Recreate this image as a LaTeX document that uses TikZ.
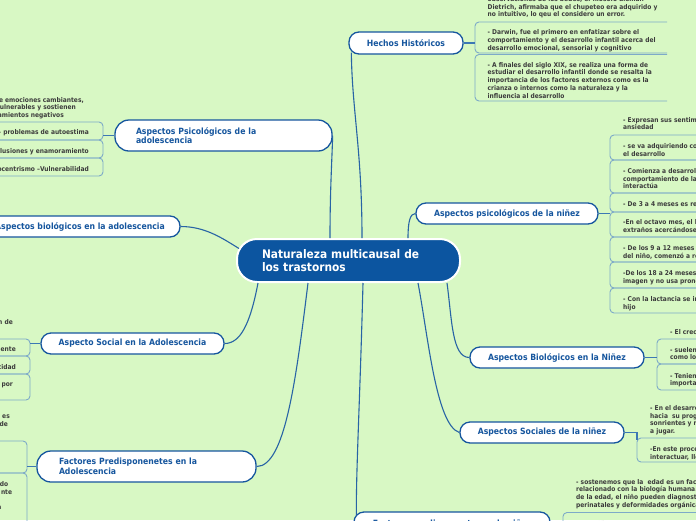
\documentclass[tikz,border=0pt]{standalone}
\usepackage{fontspec}
\setmainfont{DejaVu Sans}[FakeStretch=0.9]
\definecolor{bg}{RGB}{216,248,196}
\definecolor{nblue}{RGB}{22,86,158}
\definecolor{cblue}{RGB}{12,85,160}
\definecolor{lnblue}{RGB}{40,100,165}
\definecolor{stubc}{RGB}{60,120,180}
\definecolor{boxc}{RGB}{125,170,200}
\definecolor{txt}{RGB}{60,60,60}
\tikzset{
 branch/.style={draw=nblue, line width=1.3pt, fill=white, rounded corners=10pt, text=nblue, font=\bfseries\fontsize{8.6}{9.7}\selectfont, inner sep=0pt},
 central/.style={draw=white, line width=2pt, fill=cblue, rounded corners=20pt, text=white, font=\bfseries\fontsize{11.8}{13.5}\selectfont, inner sep=0pt, align=left},
 conn/.style={draw=lnblue, line width=1.1pt},
 stub/.style={draw=stubc, line width=1.8pt},
 cbox/.style={draw=boxc, line width=0.9pt, rounded corners=4pt},
 ctext/.style={text=txt, font=\bfseries\fontsize{6.6}{7.7}\selectfont, inner sep=0pt, align=left, anchor=north west},
 ltext/.style={text=txt, font=\bfseries\fontsize{6.6}{7.7}\selectfont, inner sep=0pt, align=right},
}
\newcommand\mybrR[4]{\draw[cbox] (#2,#3) -- (#1,#3) -- (#1,#4) -- (#2,#4);}
\newcommand\mybrLL[3]{\draw[cbox] (-5,#2) -- (#1,#2) -- (#1,#3) -- (-5,#3);}
\newcommand\padr[1]{\hspace*{#1}\mbox{}}
\begin{document}
\begin{tikzpicture}[x=1pt,y=-1pt]
\useasboundingbox (0,0) rectangle (696,520);
\clip (0,0) rectangle (696,520);
\fill[bg] (0,0) rectangle (696,520);

% central and branch nodes
\node[central, minimum width=223pt, minimum height=43pt, text width=173pt] (c) at (348.5,260.5) {Naturaleza multicausal de\\los trastornos};
\node[branch, minimum width=114pt, minimum height=22pt] (hh) at (406,43) {Hechos Históricos};
\node[branch, minimum width=182pt, minimum height=21pt] (pn) at (507,213.5) {Aspectos psicológicos de la niñez};
\node[branch, minimum width=174pt, minimum height=21pt] (bn) at (557,357.5) {Aspectos Biológicos en la Niñez};
\node[branch, minimum width=164pt, minimum height=21pt] (sn) at (542,432.5) {Aspectos Sociales de la niñez};
\node[branch, minimum width=196pt, minimum height=21pt, text height=8pt, text depth=1pt] (bt) at (452,522.5) {Factores predisponentes en la niñez};
\node[branch, minimum width=217pt, minimum height=31pt, text width=175pt, align=left, rounded corners=14pt] (pa) at (223.5,135.5) {Aspectos Psicológicos de la\\adolescencia};
\node[branch, minimum width=200pt, minimum height=21pt] (ba) at (80,226.5) {Aspectos biológicos en la adolescencia};
\node[branch, minimum width=183pt, minimum height=21pt] (sa) at (132.5,343.5) {Aspecto Social en la Adolescencia};
\node[branch, minimum width=219pt, minimum height=31pt, text width=175pt, align=left, rounded corners=14pt] (fa) at (146.5,466.5) {Factores Predisponenetes en la\\Adolescencia};

% main connectors
\draw[conn] ([xshift=-18.5pt]c.north) .. controls (330,190) and (332,160) .. (pa.east);
\draw[conn] ([xshift=13.5pt]c.north) .. controls (362,150) and (352,110) .. ([xshift=3pt,yshift=2pt]hh.south west);
\draw[conn] ([xshift=59.5pt]c.north) .. controls (408,222) and (410,213.5) .. (pn.west);
\draw[conn] ([xshift=3pt,yshift=12pt]c.west) .. controls (222,238) and (205,226.5) .. (ba.east);
\draw[conn] ([xshift=-90.5pt]c.south) .. controls (250,325) and (240,343.5) .. (sa.east);
\draw[conn] ([xshift=-40.5pt]c.south) .. controls (296,380) and (285,466.5) .. (fa.east);
\draw[conn] ([xshift=14.5pt]c.south) .. controls (360,400) and (356,470) .. ([xshift=3pt,yshift=-4pt]bt.north west);
\draw[conn] ([xshift=69.5pt]c.south) .. controls (428,335) and (436,425) .. (sn.west);
\draw[conn] ([xshift=98.5pt]c.south) .. controls (452,320) and (452,357.5) .. (bn.west);

% child brackets
\mybrR{475}{667}{22}{53}
\mybrR{475}{667}{54.5}{101}
\mybrR{610}{700}{135}{160}
\mybrR{610}{700}{160}{193}
\mybrR{610}{700}{193}{212}
\mybrR{610}{700}{212}{237}
\mybrR{610}{700}{237}{262}
\mybrR{610}{700}{262}{288}
\mybrR{610}{700}{288}{313}
\mybrR{657}{700}{339}{364}
\mybrR{657}{700}{364}{390}
\mybrR{637}{700}{438}{462}
\mybrR{563}{700}{512.5}{540}
\mybrLL{103}{122}{140}
\mybrLL{103}{140}{158}
\mybrLL{103}{158}{176}
\mybrLL{30}{339}{356}
\mybrLL{30}{356}{374}
\mybrLL{30}{374}{400}
\mybrLL{27}{441}{473}
\mybrLL{27}{473}{530}

% stubs
\coordinate (hhk) at (475,43);
\coordinate (pnk) at (610,213.5);
\coordinate (bnk) at (657,357.5);
\coordinate (snk) at (637,432.5);
\coordinate (btk) at (563,522.5);
\coordinate (pak) at (103,135.5);
\coordinate (sak) at (30,343.5);
\coordinate (fak) at (27,466.5);
\draw[stub] (hh.east) -- (hhk);
\draw[stub] (pn.east) -- (pnk);
\draw[stub] (bn.east) -- (bnk);
\draw[stub] (sn.east) -- (snk) -- ++(0,7);
\draw[stub] (bt.east) -- (btk);
\draw[stub] (pa.west) -- (pak);
\draw[stub] (sa.west) -- (sak);
\draw[stub] (fa.west) -- (fak);

% right texts
\node[ctext] (hc1) at (487.5,-4) {observaciones de los bebés, el filósofo alemán\\Dietrich, afirmaba que el chupeteo era adquirido y\\no intuitivo, lo qeu el considero un error.};
\node[ctext] (hc2) at (487.5,29.7) {- Darwin, fue el primero en enfatizar sobre el\\comportamiento y el desarrollo infantil acerca del\\desarrollo emocional, sensorial y cognitivo};
\node[ctext] (hc3) at (487.5,62) {- A finales del siglo XIX, se realiza una forma de\\estudiar el desarrollo infantil donde se resalta la\\importancia de los factores externos como es la\\crianza o internos como la naturaleza y la\\influencia al desarrollo};

\node[ctext] (pc1) at (623,117) {- Expresan sus sentimientos\\ansiedad};
\node[ctext] (pc2) at (623,143.7) {- se va adquiriendo control\\el desarrollo};
\node[ctext] (pc3) at (623,168.3) {- Comienza a desarrollar\\comportamiento de la\\interactúa};
\node[ctext] (pc4) at (623,201.3) {- De 3 a 4 meses es reconocido};
\node[ctext] (pc5) at (623,219.7) {-En el octavo mes, el lactante\\extraños acercándose};
\node[ctext] (pc6) at (623,245.7) {- De los 9 a 12 meses\\del niño, comenzó a reconocer};
\node[ctext] (pc7) at (623,270.7) {-De los 18 a 24 meses\\imagen y no usa pronombres};
\node[ctext] (pc8) at (623,296.3) {- Con la lactancia se inicia\\hijo};

\node[ctext] (bc1) at (670,329) {- El crecimiento};
\node[ctext] (bc2) at (670,347) {- suelen\\como los};
\node[ctext] (bc3) at (670,373) {- Teniendo\\importancia};

\node[ctext] (sc1) at (650,405.3) {- En el desarrollo\\hacia\ \ su progreso\\sonrientes y muy\\a jugar.};
\node[ctext] (sc2) at (650,446.3) {-En este proceso\\interactuar, llegan};

\node[ctext] (tc1) at (576,479) {- sostenemos que la\ \ edad es un factor\\relacionado con la biología humana.\\de la edad, el niño pueden diagnosticar\\perinatales y deformidades orgánicas};
\node[ctext] (tc2) at (576,521.5) {- Los niños};

% left texts
\node[ltext, anchor=north east] (ac1) at (84,97) {de emociones cambiantes,\\vulnerables y sostienen\padr{8pt}\\pensamientos negativos\padr{20pt}};
\node[ltext, anchor=east] (ac2) at (89,132.7) {– problemas de autoestima};
\node[ltext, anchor=east] (ac3) at (89,151.7) {ilusiones y enamoramiento};
\node[ltext, anchor=east] (ac4) at (89,169.3) {Egocentrismo –Vulnerabilidad};

\node[ltext, anchor=east] (sl1) at (13,323) {aceptación de};
\node[ltext, anchor=east] (sl2) at (16,349) {frecuente};
\node[ltext, anchor=east] (sl3) at (16,367) {identidad};
\node[ltext, anchor=east] (sl4) at (13,385.3) {por};

\node[ltext, anchor=north east] (fl1) at (10,415) {es\\de\padr{2pt}};
\node[ltext, anchor=north east] (fl3) at (12.3,481.3) {do\padr{4pt}\\nte\\\mbox{}\\a\padr{10.6pt}};
\end{tikzpicture}
\end{document}
